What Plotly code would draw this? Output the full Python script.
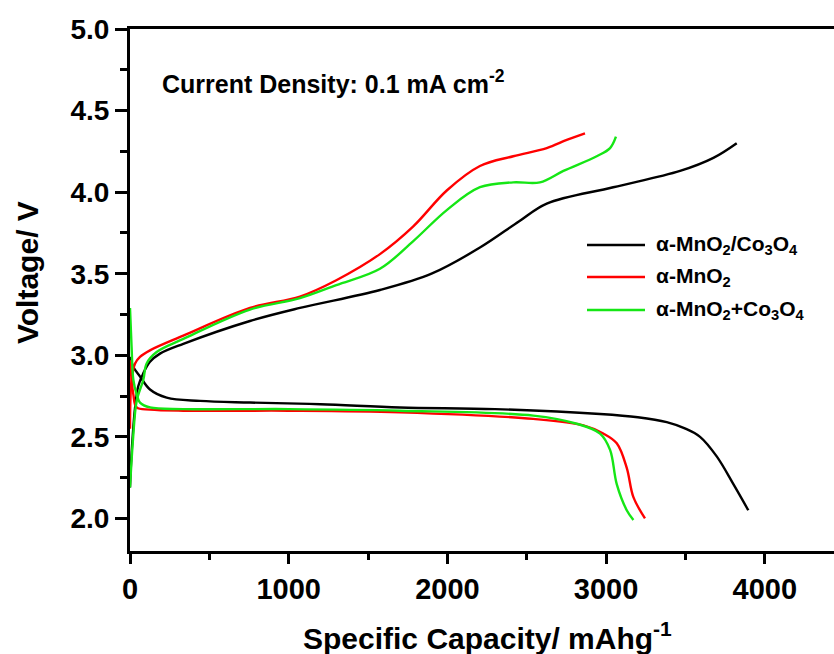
import plotly.graph_objects as go

# ---- data ----
series_names = ["α-MnO<sub>2</sub>/Co<sub>3</sub>O<sub>4</sub>", "α-MnO<sub>2</sub>", "α-MnO<sub>2</sub>+Co<sub>3</sub>O<sub>4</sub>"]
series_colors = ["#000000", "#ff0000", "#15e615"]

black_charge_x = [0, 10, 32, 52, 84, 126, 189, 336, 756, 1071, 1575, 1900, 2205, 2450, 2626, 3045, 3466, 3676, 3823]
black_charge_y = [2.19, 2.40, 2.68, 2.81, 2.89, 2.96, 3.01, 3.07, 3.21, 3.29, 3.40, 3.50, 3.66, 3.82, 3.93, 4.03, 4.13, 4.21, 4.30]
black_dis_x = [0, 20, 63, 126, 231, 441, 756, 1200, 1701, 2300, 2962, 3200, 3382, 3500, 3592, 3697, 3802, 3896]
black_dis_y = [2.99, 2.93, 2.87, 2.79, 2.74, 2.72, 2.71, 2.70, 2.68, 2.67, 2.64, 2.62, 2.59, 2.55, 2.50, 2.38, 2.21, 2.05]

red_charge_x = [0, 10, 32, 63, 126, 336, 756, 1071, 1300, 1575, 1785, 1996, 2205, 2415, 2626, 2752, 2867]
red_charge_y = [2.55, 2.85, 2.95, 2.99, 3.03, 3.12, 3.29, 3.36, 3.46, 3.62, 3.79, 4.01, 4.16, 4.22, 4.27, 4.32, 4.36]
red_dis_x = [0, 10, 21, 42, 126, 336, 1000, 1701, 2541, 2857, 2982, 3067, 3130, 3172, 3245]
red_dis_y = [2.97, 2.85, 2.76, 2.68, 2.667, 2.66, 2.66, 2.65, 2.61, 2.57, 2.52, 2.46, 2.31, 2.13, 2.00]

green_charge_x = [0, 20, 42, 84, 105, 168, 336, 756, 1071, 1300, 1575, 1785, 1996, 2205, 2415, 2583, 2731, 2941, 3025, 3062]
green_charge_y = [2.19, 2.50, 2.72, 2.85, 2.95, 3.02, 3.10, 3.28, 3.35, 3.43, 3.53, 3.70, 3.89, 4.03, 4.06, 4.06, 4.13, 4.22, 4.27, 4.34]
green_dis_x = [0, 10, 21, 42, 63, 126, 336, 1000, 1701, 2541, 2815, 2962, 3025, 3067, 3130, 3172]
green_dis_y = [3.29, 3.05, 2.85, 2.76, 2.71, 2.68, 2.67, 2.67, 2.66, 2.63, 2.58, 2.52, 2.42, 2.21, 2.05, 1.99]

x_tickvals = [0, 1000, 2000, 3000, 4000]
y_tickvals = [2.0, 2.5, 3.0, 3.5, 4.0, 4.5, 5.0]

curves = [
    (black_charge_x, black_charge_y, black_dis_x, black_dis_y),
    (red_charge_x, red_charge_y, red_dis_x, red_dis_y),
    (green_charge_x, green_charge_y, green_dis_x, green_dis_y),
]

FONT = "Liberation Sans, Arial, sans-serif"

# plot-area pixel geometry
L, T, W, H = 130, 29, 704, 522
def px_x(p):
    return (p - L) / W
def px_y(p):
    return (T + H - p) / H

fig = go.Figure()
for (cx, cy, dx, dy), name, col in zip(curves, series_names, series_colors):
    for xs, ys in ((cx, cy), (dx, dy)):
        fig.add_trace(go.Scatter(
            x=xs, y=ys, mode="lines", name=name, legendgroup=name,
            showlegend=False, hoverinfo="skip",
            line=dict(color=col, width=2.4, shape="spline", smoothing=1.0),
        ))

# manual legend (long line samples as in the reference)
leg_rows_py = [245, 277, 310]
for name, col, py in zip(series_names, series_colors, leg_rows_py):
    fig.add_shape(type="line", xref="paper", yref="paper",
                  x0=px_x(587), x1=px_x(645), y0=px_y(py), y1=px_y(py),
                  line=dict(color=col, width=2.5))
    fig.add_annotation(xref="paper", yref="paper", x=px_x(654), y=px_y(py),
                       xanchor="left", yanchor="middle", showarrow=False,
                       text=name, font=dict(family=FONT, size=21, color="black", weight="bold"))

fig.add_annotation(xref="paper", yref="paper", x=px_x(160), y=px_y(82),
                   xanchor="left", yanchor="middle", showarrow=False,
                   text="Current Density: 0.1 mA cm<sup>-2</sup>",
                   font=dict(family=FONT, size=25, color="black", weight="bold"))

# axis titles
fig.add_annotation(xref="paper", yref="paper", x=px_x(487), y=px_y(636),
                   xanchor="center", yanchor="middle", showarrow=False,
                   text="Specific Capacity/ mAhg<sup>-1</sup>",
                   font=dict(family=FONT, size=30, color="black", weight="bold"))
fig.add_annotation(xref="paper", yref="paper", x=px_x(27), y=px_y(273),
                   xanchor="center", yanchor="middle", showarrow=False, textangle=-90,
                   text="Voltage/ V",
                   font=dict(family=FONT, size=30, color="black", weight="bold"))

fig.update_layout(
    width=834, height=654,
    margin=dict(l=L, r=834 - L - W, t=T, b=654 - T - H),
    paper_bgcolor="white", plot_bgcolor="white",
    showlegend=False, hovermode=False,
    font=dict(family=FONT, color="black"),
)
fig.update_xaxes(
    range=[0, 4436], showgrid=False, zeroline=False,
    showline=True, linecolor="black", linewidth=3, mirror=True,
    ticks="outside", ticklen=10, tickwidth=3, tickcolor="black",
    tickvals=x_tickvals,
    tickfont=dict(family=FONT, size=29, color="black", weight="bold"),
    minor=dict(dtick=500, ticks="outside", ticklen=6, tickwidth=3, tickcolor="black", showgrid=False),
)
fig.update_yaxes(
    range=[1.8, 5.0], showgrid=False, zeroline=False,
    showline=True, linecolor="black", linewidth=3, mirror=False,
    ticks="outside", ticklen=12, tickwidth=3, tickcolor="black",
    tickvals=y_tickvals, tickformat=".1f",
    tickfont=dict(family=FONT, size=28, color="black", weight="bold"),
    minor=dict(dtick=0.25, tick0=2.0, ticks="outside", ticklen=7, tickwidth=3, tickcolor="black", showgrid=False),
)

fig.write_html("out.html",
               config={"displayModeBar": False},
               post_script="document.body.style.margin='0px';document.body.style.overflow='hidden';")
